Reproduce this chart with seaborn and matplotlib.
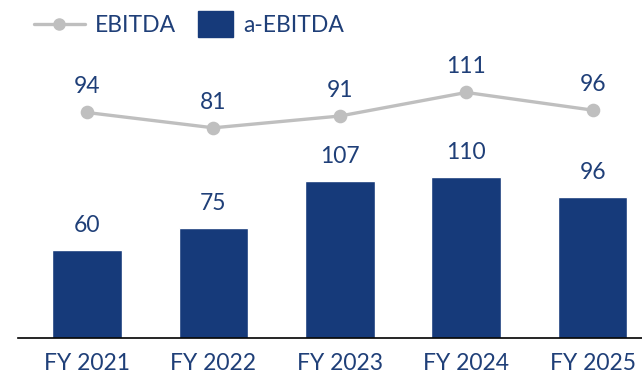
import matplotlib
matplotlib.use("Agg")
import matplotlib.pyplot as plt
from matplotlib.patches import Rectangle
from matplotlib.lines import Line2D
from matplotlib.legend_handler import HandlerPatch
import seaborn as sns
import pandas as pd

years = ["FY 2021", "FY 2022", "FY 2023", "FY 2024", "FY 2025"]
a_ebitda = [60, 75, 107, 110, 96]
ebitda = [94, 81, 91, 111, 96]

NAVY = "#163A7A"
TEXT = "#1F3F78"
GREY = "#BFBFBF"

sns.set_theme(style="white")
plt.rcParams["font.family"] = ["Lato", "DejaVu Sans"]

df = pd.DataFrame({"year": years, "a_ebitda": a_ebitda, "ebitda": ebitda})

fig = plt.figure(figsize=(6.42, 3.73), dpi=100)
ax = fig.add_axes([18 / 642, 35 / 373, 1 - 18 / 642, 298 / 373])

sns.barplot(data=df, x="year", y="a_ebitda", color=NAVY, width=0.55,
            saturation=1, ax=ax)
ax.set_ylim(0, 203.4)

ax2 = ax.twinx()
sns.pointplot(data=df, x="year", y="ebitda", color=GREY, markers="o",
              markersize=8, linewidth=2.4, ax=ax2)
ax2.set_ylim(-97.3, 155.5)
ax.set_xlim(-0.545, 4.39)

FS = 16.5

# value labels
for i, v in enumerate(a_ebitda):
    ax.annotate(f"{v}", (i, v), xytext=(0, 10), textcoords="offset points",
                ha="center", va="bottom", fontsize=FS, color=TEXT)
for i, v in enumerate(ebitda):
    ax2.annotate(f"{v}", (i, v), xytext=(0, 11), textcoords="offset points",
                 ha="center", va="bottom", fontsize=FS, color=TEXT)

for a in (ax, ax2):
    a.set_xlabel("")
    a.set_ylabel("")
    a.set_yticks([])
    for s in ("top", "left", "right", "bottom"):
        a.spines[s].set_visible(False)
ax.spines["bottom"].set_visible(True)
ax.spines["bottom"].set_color("black")
ax.spines["bottom"].set_linewidth(1.2)
ax.tick_params(axis="x", length=0, pad=11, labelsize=FS, labelcolor=TEXT)


def square_patch(legend, orig_handle, xdescent, ydescent, width, height, fontsize):
    w = height * 2.18
    h = height * 1.62
    return Rectangle((width - w - xdescent, -ydescent - (h - height) / 2), w, h)


handles = [
    Line2D([0], [0], color=GREY, lw=2.4, marker="o", markersize=8),
    Rectangle((0, 0), 1, 1, color=NAVY),
]
leg = fig.legend(handles, ["EBITDA", "a-EBITDA"], loc="upper left",
                 bbox_to_anchor=(25 / 642, 1 - 6 / 373), ncol=2, frameon=False,
                 fontsize=FS, handlelength=2.2, columnspacing=0.3,
                 handletextpad=0.44, borderaxespad=0,
                 handler_map={Rectangle: HandlerPatch(patch_func=square_patch)})
for t in leg.get_texts():
    t.set_color(TEXT)

fig.savefig("out.png", dpi=100)
